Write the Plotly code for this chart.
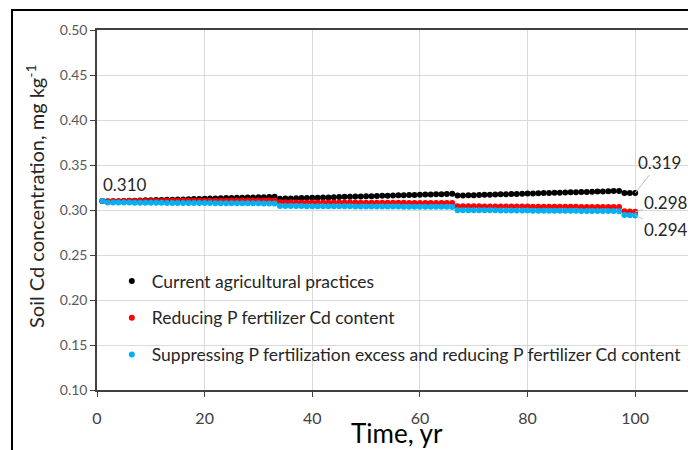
import plotly.graph_objects as go

# ---------------- data ----------------
years = list(range(1, 101))

# Current agricultural practices (years 1-33, 34-66, 67-97, 98-100)
current_seg1 = [0.3100, 0.3095, 0.3097, 0.3098, 0.3100, 0.3102, 0.3103, 0.3105, 0.3107, 0.3108,
                0.3110, 0.3112, 0.3113, 0.3115, 0.3117, 0.3118, 0.3120, 0.3122, 0.3123, 0.3125,
                0.3127, 0.3128, 0.3130, 0.3132, 0.3133, 0.3135, 0.3137, 0.3138, 0.3140, 0.3142,
                0.3143, 0.3145, 0.3146]
current_seg2 = [0.3125, 0.3127, 0.3128, 0.3130, 0.3132, 0.3134, 0.3135, 0.3137, 0.3139, 0.3140,
                0.3142, 0.3144, 0.3146, 0.3147, 0.3149, 0.3151, 0.3152, 0.3154, 0.3156, 0.3158,
                0.3159, 0.3161, 0.3163, 0.3164, 0.3166, 0.3168, 0.3170, 0.3171, 0.3173, 0.3175,
                0.3176, 0.3178, 0.3180]
current_seg3 = [0.3160, 0.3162, 0.3164, 0.3165, 0.3167, 0.3169, 0.3170, 0.3172, 0.3174, 0.3176,
                0.3177, 0.3179, 0.3181, 0.3182, 0.3184, 0.3186, 0.3188, 0.3189, 0.3191, 0.3193,
                0.3194, 0.3196, 0.3198, 0.3200, 0.3201, 0.3203, 0.3205, 0.3206, 0.3208, 0.3210,
                0.3212]
current_seg4 = [0.3190, 0.3190, 0.3190]

# Reducing P fertilizer Cd content
reducing_seg1 = [0.3100, 0.3097, 0.3098, 0.3098, 0.3099, 0.3099, 0.3100, 0.3100, 0.3100, 0.3101,
                 0.3101, 0.3101, 0.3102, 0.3102, 0.3102, 0.3103, 0.3103, 0.3103, 0.3103, 0.3104,
                 0.3104, 0.3104, 0.3104, 0.3104, 0.3105, 0.3105, 0.3105, 0.3105, 0.3105, 0.3105,
                 0.3106, 0.3106, 0.3106]
reducing_seg2 = [0.3085, 0.3085, 0.3085, 0.3084, 0.3084, 0.3084, 0.3084, 0.3083, 0.3083, 0.3083,
                 0.3083, 0.3082, 0.3082, 0.3082, 0.3082, 0.3081, 0.3081, 0.3081, 0.3081, 0.3080,
                 0.3080, 0.3080, 0.3080, 0.3080, 0.3079, 0.3079, 0.3079, 0.3079, 0.3079, 0.3078,
                 0.3078, 0.3078, 0.3078]
reducing_seg3 = [0.3042, 0.3042, 0.3041, 0.3041, 0.3041, 0.3040, 0.3040, 0.3040, 0.3039, 0.3039,
                 0.3039, 0.3038, 0.3038, 0.3038, 0.3037, 0.3037, 0.3037, 0.3036, 0.3036, 0.3036,
                 0.3035, 0.3035, 0.3035, 0.3034, 0.3034, 0.3034, 0.3033, 0.3033, 0.3033, 0.3032,
                 0.3032]
reducing_seg4 = [0.2985, 0.2982, 0.2980]

# Suppressing P fertilization excess and reducing P fertilizer Cd content
suppress_seg1 = [0.3100, 0.3083, 0.3083, 0.3082, 0.3082, 0.3082, 0.3081, 0.3081, 0.3081, 0.3080,
                 0.3080, 0.3080, 0.3079, 0.3079, 0.3079, 0.3078, 0.3078, 0.3078, 0.3077, 0.3077,
                 0.3077, 0.3076, 0.3076, 0.3076, 0.3075, 0.3075, 0.3075, 0.3074, 0.3074, 0.3074,
                 0.3073, 0.3073, 0.3073]
suppress_seg2 = [0.3045, 0.3045, 0.3044, 0.3044, 0.3044, 0.3043, 0.3043, 0.3043, 0.3042, 0.3042,
                 0.3042, 0.3041, 0.3041, 0.3041, 0.3040, 0.3040, 0.3040, 0.3039, 0.3039, 0.3039,
                 0.3038, 0.3038, 0.3038, 0.3037, 0.3037, 0.3037, 0.3036, 0.3036, 0.3036, 0.3035,
                 0.3035, 0.3035, 0.3034]
suppress_seg3 = [0.2998, 0.2998, 0.2997, 0.2997, 0.2997, 0.2996, 0.2996, 0.2996, 0.2995, 0.2995,
                 0.2995, 0.2994, 0.2994, 0.2994, 0.2993, 0.2993, 0.2993, 0.2992, 0.2992, 0.2992,
                 0.2991, 0.2991, 0.2991, 0.2990, 0.2990, 0.2989, 0.2989, 0.2989, 0.2988, 0.2988,
                 0.2987]
suppress_seg4 = [0.2945, 0.2942, 0.2940]

current = current_seg1 + current_seg2 + current_seg3 + current_seg4
reducing = reducing_seg1 + reducing_seg2 + reducing_seg3 + reducing_seg4
suppress = suppress_seg1 + suppress_seg2 + suppress_seg3 + suppress_seg4

series_names = ["Current agricultural practices",
                "Reducing P fertilizer Cd content",
                "Suppressing P fertilization excess and reducing P fertilizer Cd content"]
series_values = [current, reducing, suppress]
series_colors = ["#000000", "#FF0000", "#00B0F0"]

start_label = ("0.310", 1, 0.310)
end_labels = [("0.319", 100, 0.319), ("0.298", 100, 0.298), ("0.294", 100, 0.294)]

x_title = "Time, yr"
y_title = "Soil Cd concentration, mg kg<sup>-1</sup>"

FONT = "Lato"
OFF = 8  # page body margin in the browser
W, H = 696 - OFF, 450 - OFF
L, R, T, B = 97 - OFF, 7, 30 - OFF, 60
PW, PH = W - L - R, H - T - B


def px_x(p):  # page pixel -> paper x
    return (p - OFF - L) / PW


def px_y(p):  # page pixel -> paper y
    return (H - B - (p - OFF)) / PH


fig = go.Figure()
for i, (name, vals, col) in enumerate(zip(series_names, series_values, series_colors)):
    fig.add_trace(go.Scatter(
        x=years, y=vals, mode="markers", name=name, legendgroup=f"g{i}",
        marker=dict(color=col, size=6, line=dict(width=0)),
    ))

# value labels
fig.add_annotation(x=start_label[1], y=start_label[2], text=start_label[0], showarrow=False,
                   xanchor="left", yanchor="middle", xshift=-1, yshift=17,
                   font=dict(family=FONT, size=17, color="#262626"))
offsets = [(24, -30), (31, -9), (31, 14)]
for (txt, xv, yv), (ax, ay) in zip(end_labels, offsets):
    fig.add_annotation(x=xv, y=yv, text=txt, showarrow=True, arrowhead=0, arrowwidth=1,
                       arrowcolor="#BFBFBF", ax=ax, ay=ay,
                       font=dict(family=FONT, size=17, color="#262626"))

# axis titles
fig.add_annotation(xref="paper", yref="paper", x=px_x(397), y=px_y(433), text=x_title,
                   showarrow=False, xanchor="center", yanchor="middle",
                   font=dict(family=FONT, size=26, color="#000000"))
fig.add_annotation(xref="paper", yref="paper", x=px_x(35), y=px_y(196), text=y_title,
                   showarrow=False, textangle=-90, xanchor="center", yanchor="middle",
                   font=dict(family=FONT, size=20, color="#262626"))

# outer frame
fig.add_shape(type="rect", xref="paper", yref="paper",
              x0=px_x(12), x1=px_x(705), y0=px_y(460), y1=px_y(10),
              line=dict(color="#000000", width=2), fillcolor="rgba(0,0,0,0)", layer="above")

fig.update_layout(
    width=W, height=H,
    margin=dict(l=L, r=R, t=T, b=B, autoexpand=False),
    paper_bgcolor="white", plot_bgcolor="white",
    font=dict(family=FONT, color="#404040"),
    showlegend=True,
    legend=dict(x=0.025, y=px_y(263), xanchor="left", yanchor="top",
                font=dict(family=FONT, size=17.5, color="#262626"),
                bgcolor="rgba(255,255,255,0)", tracegroupgap=11, traceorder="grouped"),
    xaxis=dict(range=[0, 110], dtick=20, tick0=0, showgrid=True, gridcolor="#D9D9D9",
               gridwidth=1, zeroline=False, showline=True, linecolor="#404040", linewidth=1.5,
               mirror=True, ticks="outside", ticklen=5, tickcolor="#404040", automargin=False,
               ticklabelstandoff=8,
               tickfont=dict(family=FONT, size=16, color="#404040")),
    yaxis=dict(range=[0.10, 0.50], dtick=0.05, tick0=0.10, tickformat=".2f", showgrid=True,
               gridcolor="#D9D9D9", gridwidth=1, zeroline=False, showline=True,
               linecolor="#404040", linewidth=1.5, mirror=True, ticks="outside", ticklen=5,
               tickcolor="#404040", automargin=False,
               tickfont=dict(family=FONT, size=14, color="#595959")),
)

fig.write_html("out.html")
